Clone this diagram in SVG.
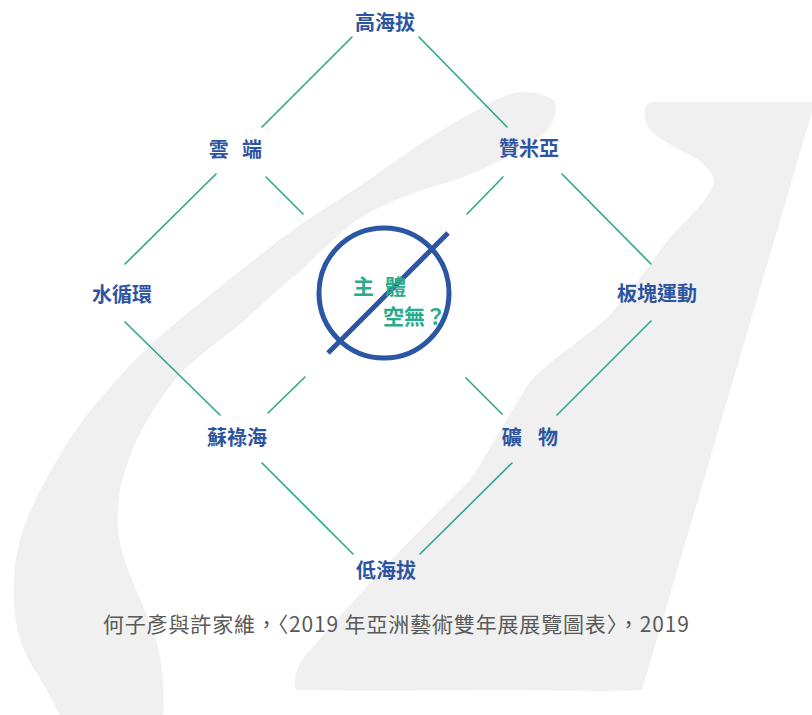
<svg xmlns="http://www.w3.org/2000/svg" width="812" height="715" viewBox="0 0 812 715">
  <style>
    .bg { fill: #f0f0f0; stroke: none; }
    .link { stroke: #2aa88a; stroke-width: 1.6; fill: none; stroke-linecap: round; }
    .label { font-family: "Noto Sans CJK TC", "Noto Sans CJK SC", sans-serif; font-size: 20px; font-weight: bold; fill: #2c54a0; text-anchor: middle; dominant-baseline: central; }
    .core { font-family: "Noto Sans CJK TC", "Noto Sans CJK SC", sans-serif; font-size: 21px; font-weight: bold; fill: #2aab8c; dominant-baseline: central; }
    .caption { font-family: "Noto Sans CJK TC", "Noto Sans CJK SC", sans-serif; font-size: 21px; font-weight: 400; fill: #595959; dominant-baseline: central; }
  </style>

  <rect width="812" height="715" fill="#ffffff"/>

  <!-- background brush strokes -->
  <g id="backdrop">
    <path class="bg" d="M555,101 C545,94 530,90 515,93 C500,96 488,104 470,114 C440,130 410,150 380,172 C350,194 320,210 290,232 C240,270 190,310 150,345 C110,385 80,420 60,455 C30,505 15,540 14,580 C12,620 20,650 38,675 C48,692 55,705 60,715 L163,715 C165,690 162,660 156,640 C148,615 140,600 130,575 C118,545 115,520 120,490 C128,455 140,430 160,400 C180,370 200,355 220,340 C250,318 275,290 300,272 C320,252 340,232 360,218 C390,200 420,190 452,181 C490,168 525,150 545,132 C553,125 558,112 555,101 Z"/>
    <path class="bg" d="M650,102 L812,102 L812,112 L642,690 C600,692 560,690 520,690 C450,690 370,691 296,690 C292,675 300,660 312,648 C340,615 360,595 380,572 C410,540 440,510 470,480 C490,450 505,420 530,382 C555,355 590,335 610,315 C630,292 650,265 668,240 C690,215 712,198 714,180 C712,170 700,160 690,155 C675,147 660,140 650,130 C643,120 643,108 650,102 Z"/>
  </g>

  <!-- connectors -->
  <g id="connectors">
    <line class="link" x1="352" y1="37" x2="262" y2="127"/>
    <line class="link" x1="419" y1="37" x2="507" y2="127"/>
    <line class="link" x1="216" y1="174" x2="125" y2="264"/>
    <line class="link" x1="266" y1="177" x2="303" y2="214"/>
    <line class="link" x1="503" y1="177" x2="467" y2="214"/>
    <line class="link" x1="562" y1="174" x2="651" y2="264"/>
    <line class="link" x1="125" y1="322" x2="220" y2="415"/>
    <line class="link" x1="305" y1="377" x2="268" y2="413"/>
    <line class="link" x1="466" y1="378" x2="502" y2="414"/>
    <line class="link" x1="651" y1="321" x2="557" y2="415"/>
    <line class="link" x1="262" y1="463" x2="353" y2="554"/>
    <line class="link" x1="512" y1="463" x2="420" y2="554"/>
  </g>

  <!-- nodes -->
  <g id="node-high"><text class="label" x="385" y="21">高海拔</text></g>
  <g id="node-cloud"><text class="label"><tspan x="221" y="148">雲</tspan> <tspan x="252" y="148">端</tspan></text></g>
  <g id="node-zomia"><text class="label" x="529" y="147">贊米亞</text></g>
  <g id="node-water"><text class="label" x="122" y="293">水循環</text></g>
  <g id="node-plate"><text class="label" x="657" y="292">板塊運動</text></g>
  <g id="node-sulu"><text class="label" x="237" y="436">蘇祿海</text></g>
  <g id="node-mineral"><text class="label"><tspan x="514" y="436">礦</tspan> <tspan x="548" y="436">物</tspan></text></g>
  <g id="node-low"><text class="label" x="386" y="569">低海拔</text></g>

  <g id="node-subject">
    <circle cx="384" cy="293" r="65" fill="none" stroke="#2a56a3" stroke-width="5"/>
    <line x1="448" y1="233" x2="328" y2="353" stroke="#2a56a3" stroke-width="5"/>
    <text class="core"><tspan x="353" y="285">主</tspan> <tspan x="385" y="285">體</tspan></text>
    <text class="core"><tspan x="383" y="315">空無</tspan><tspan x="425" y="315">？</tspan></text>
  </g>

  <g id="caption"><text class="caption" x="103" y="623" textLength="586" lengthAdjust="spacing">何子彥與許家維，〈2019 年亞洲藝術雙年展展覽圖表〉，2019</text></g>
</svg>
